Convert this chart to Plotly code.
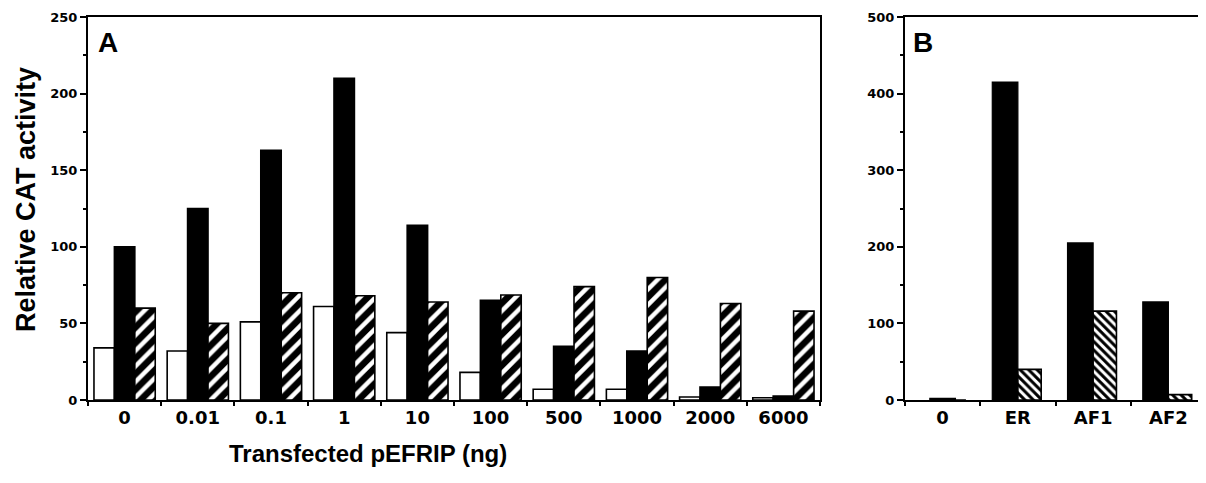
import plotly.graph_objects as go

# ---- data ----
doses = ["0", "0.01", "0.1", "1", "10", "100", "500", "1000", "2000", "6000"]
a_white = [34, 32, 51, 61, 44, 18, 7, 7, 2, 1.5]
a_black = [100, 125, 163, 210, 114, 65, 35, 32, 8.5, 2.5]
a_hatch = [60, 50, 70, 68, 64, 68.5, 74, 80, 63, 58]

constructs = ["0", "ER", "AF1", "AF2"]
b_black = [2, 415, 205, 128]
b_hatch = [0, 40, 116, 7]

a_yticks = [0, 50, 100, 150, 200, 250]
b_yticks = [0, 100, 200, 300, 400, 500]

# The page body has an 8px default margin; the figure is sized to fit inside.
OFF = 8
W, H = 1206 - OFF, 483 - OFF
def px(x):
    return (x - OFF) / W
def py(y):
    return 1 - (y - OFF) / H

LINE = dict(color="black", width=1.6)

fig = go.Figure()

fig.add_trace(go.Bar(x=doses, y=a_white, xaxis="x", yaxis="y",
                     marker=dict(color="white", line=LINE), showlegend=False))
fig.add_trace(go.Bar(x=doses, y=a_black, xaxis="x", yaxis="y",
                     marker=dict(color="black", line=LINE), showlegend=False))
fig.add_trace(go.Bar(x=doses, y=a_hatch, xaxis="x", yaxis="y",
                     marker=dict(color="white", line=LINE,
                                 pattern=dict(shape="/", fgcolor="#000000", bgcolor="#ffffff",
                                              fgopacity=1, size=11, solidity=0.6)),
                     showlegend=False))

fig.add_trace(go.Bar(x=constructs, y=b_black, xaxis="x2", yaxis="y2",
                     width=0.34, offset=[-0.17, -0.34, -0.34, -0.34],
                     marker=dict(color="black", line=dict(color="black", width=1.2)),
                     showlegend=False))
fig.add_trace(go.Bar(x=constructs, y=b_hatch, xaxis="x2", yaxis="y2",
                     width=0.31, offset=0.0,
                     marker=dict(color="white", line=LINE,
                                 pattern=dict(shape="\\", fgcolor="#000000", bgcolor="#ffffff",
                                              fgopacity=1, size=6, solidity=0.5)),
                     showlegend=False))

tickfont_x = dict(family="DejaVu Sans", size=18, color="black", weight="bold")
tickfont_y = dict(family="DejaVu Sans", size=13, color="black", weight="bold")

common_x = dict(showline=True, linecolor="black", linewidth=2, mirror=True,
                ticks="outside", ticklen=4, tickwidth=1.5, tickcolor="black",
                tickson="boundaries", showgrid=False, zeroline=False,
                tickfont=tickfont_x, automargin=False, fixedrange=True)
common_y = dict(showline=True, linecolor="black", linewidth=2, mirror=True,
                ticks="outside", ticklen=6, tickwidth=1.5, tickcolor="black",
                showgrid=False, zeroline=False, tickfont=tickfont_y,
                automargin=False, fixedrange=True)

title_font = dict(family="Liberation Sans", color="black", weight="bold")

fig.update_layout(
    width=W, height=H,
    margin=dict(l=0, r=0, t=0, b=0),
    paper_bgcolor="white", plot_bgcolor="white",
    barmode="group", bargap=0.163, bargroupgap=0,
    xaxis=dict(domain=[px(88), px(820)], anchor="y", **common_x),
    yaxis=dict(domain=[py(400), py(17)], anchor="x", range=[0, 250],
               tickvals=a_yticks,
               minor=dict(dtick=25, ticks="outside", ticklen=3, tickcolor="black"),
               **common_y),
    xaxis2=dict(domain=[px(905), 1.0], anchor="y2", **common_x),
    yaxis2=dict(domain=[py(400), py(17)], anchor="x2", range=[0, 500],
                tickvals=b_yticks,
                minor=dict(dtick=50, ticks="outside", ticklen=3, tickcolor="black"),
                **common_y),
    annotations=[
        dict(text="Relative CAT activity", x=px(26), y=py(200), xref="paper", yref="paper",
             xanchor="center", yanchor="middle", textangle=-90, showarrow=False,
             font=dict(size=27, **title_font)),
        dict(text="Transfected pEFRIP (ng)", x=px(368), y=py(453), xref="paper", yref="paper",
             xanchor="center", yanchor="middle", showarrow=False,
             font=dict(size=24, **title_font)),
        dict(text="A", x=px(108), y=py(42), xref="paper", yref="paper", showarrow=False,
             xanchor="center", yanchor="middle",
             font=dict(size=28, **title_font)),
        dict(text="B", x=px(923), y=py(42), xref="paper", yref="paper", showarrow=False,
             xanchor="center", yanchor="middle",
             font=dict(size=28, **title_font)),
    ],
)

fig.write_html("out.html")
